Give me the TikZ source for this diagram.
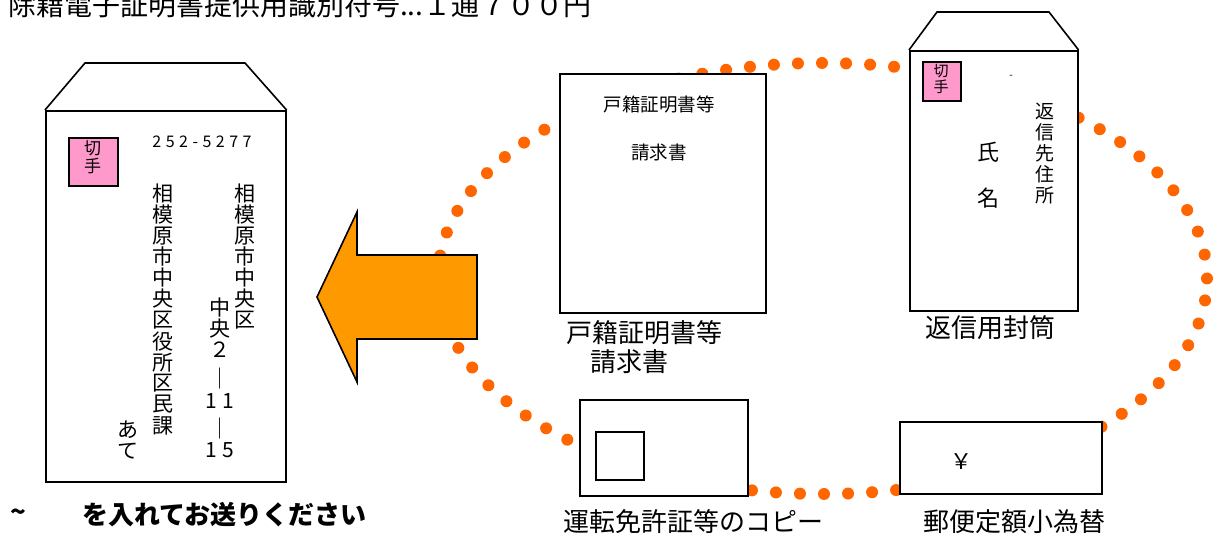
\documentclass[tikz,border=0pt]{standalone}
\usepackage{fontspec}
\setmainfont{Noto Sans CJK JP}
\newfontfamily\cjk{Noto Sans CJK JP}
\newfontfamily\cjkspaced[LetterSpace=28]{Noto Sans CJK JP}
\definecolor{dotorange}{RGB}{255,102,0}
\definecolor{arroworange}{RGB}{255,153,0}
\definecolor{stamppink}{RGB}{255,153,204}
\newcommand{\fs}[1]{\fontsize{#1}{#1}\selectfont}
\begin{document}
\begin{tikzpicture}[x=1pt,y=-1pt,
  box/.style={draw=black,line width=1.6pt,fill=white,inner sep=0pt},
  stampbox/.style={draw=black,line width=1.6pt,fill=stamppink,inner sep=0pt},
  dotring/.style={draw=dotorange,line width=12pt,line cap=round,dash pattern=on 0pt off 24.06pt},
  arrowshape/.style={draw=black,line width=1.6pt,fill=arroworange,line join=miter},
  ch/.style={inner sep=0pt,font=\cjk\fs{21}},
  captext/.style={inner sep=0pt,font=\cjk\fs{26}},
  small/.style={inner sep=0pt,font=\cjk\fs{18.5}}]
\useasboundingbox (0,0) rectangle (1216,534);
\fill[white] (0,0) rectangle (1216,534);

% title
\node[anchor=base west,inner sep=0pt,font=\cjk\fs{28}] (title) at (8,16) {除籍電子証明書提供用識別符号...１通７００円};

% dotted ring
\draw[dotring] (822.5,278.5) ellipse [x radius=384.5pt, y radius=215.5pt];

% left envelope
\node[box,minimum width=240,minimum height=371,anchor=north west] (envL) at (45,110) {};
\draw[box] (envL.north west) -- (85,63) -- (245,63) -- (envL.north east);
\node[stampbox,minimum width=49,minimum height=48,anchor=north west] (stampL) at (68,137) {};
\node[inner sep=0pt,align=center,font=\cjk\fontsize{17}{18}\selectfont] (stampLt) at (92.5,157) {切\\手};
\node[inner sep=0pt,font=\cjkspaced\fs{16}] (zip) at (202,142) {252-5277};
\foreach \c [count=\i] in {相,模,原,市,中,央,区}
  \node[ch] (ra\i) at (245,{193.5+21.1*(\i-1)}) {\c};
\foreach \c [count=\i] in {相,模,原,市,中,央,区,役,所,区,民,課}
  \node[ch] (la\i) at (163,{193.5+21.1*(\i-1)}) {\c};
\node[ch] (m1) at (220,308) {中};
\node[ch] (m2) at (220,329) {央};
\node[ch] (m3) at (220,350) {２};
\node[ch] (m4) at (220,379) {｜};
\node[ch] (m5) at (220,401.5) {1\hspace{6pt}1};
\node[ch] (m6) at (220,429) {｜};
\node[ch] (m7) at (220,450) {1\hspace{6pt}5};
\node[ch] (ate1) at (128,430) {あ};
\node[ch] (ate2) at (128,451.5) {て};

% arrow
\draw[arrowshape] (317,297) -- (357,212) -- (357,255) -- (477,255) -- (477,339) -- (357,339) -- (357,382) -- cycle;

% request form
\node[box,minimum width=206,minimum height=239,anchor=north west] (form) at (559,73) {};
\node[small] (formt1) at (659,104) {戸籍証明書等};
\node[small] (formt2) at (659,152) {請求書};
\node[captext] (formc1) at (644,333) {戸籍証明書等};
\node[captext] (formc2) at (629,362) {請求書};

% return envelope
\node[box,minimum width=168,minimum height=260,anchor=north west] (envR) at (909,50) {};
\draw[box] (envR.north west) -- (937,12) -- (1049,12) -- (envR.north east);
\node[stampbox,minimum width=38,minimum height=39,anchor=north west] (stampR) at (922,61) {};
\node[inner sep=0pt,align=center,font=\cjk\fontsize{15}{15.5}\selectfont] (stampRt) at (941,79) {切\\手};
\node[inner sep=0pt,font=\cjk\fs{10}] (dash) at (1011,77) {-};
\foreach \c [count=\i] in {返,信,先,住,所}
  \node[inner sep=0pt,font=\cjk\fs{19}] (ad\i) at (1045,{111+21*(\i-1)}) {\c};
\node[inner sep=0pt,font=\cjk\fs{22}] (nm1) at (988,152) {氏};
\node[inner sep=0pt,font=\cjk\fs{22}] (nm2) at (988,198) {名};
\node[captext] (envRc) at (990,328) {返信用封筒};

% licence copy
\node[box,minimum width=168,minimum height=96,anchor=north west] (card) at (579,399) {};
\node[box,minimum width=48,minimum height=48,anchor=north west] (photo) at (595,431) {};
\node[captext] (cardc) at (693,522) {運転免許証等のコピー};

% postal money order
\node[box,minimum width=202,minimum height=72,anchor=north west] (order) at (899,421) {};
\node[inner sep=0pt,font=\cjk\fs{22}] (yen) at (961,462) {￥};
\node[captext] (orderc) at (1014,522) {郵便定額小為替};

% bottom instruction
\node[inner sep=0pt,anchor=west,font=\cjk\bfseries\fs{26}] (tilde) at (10,515) {\string~};
\node[inner sep=0pt,anchor=west,font=\cjk\bfseries\fs{26}] (note) at (82,515) {を入れてお送りください};
\end{tikzpicture}
\end{document}
